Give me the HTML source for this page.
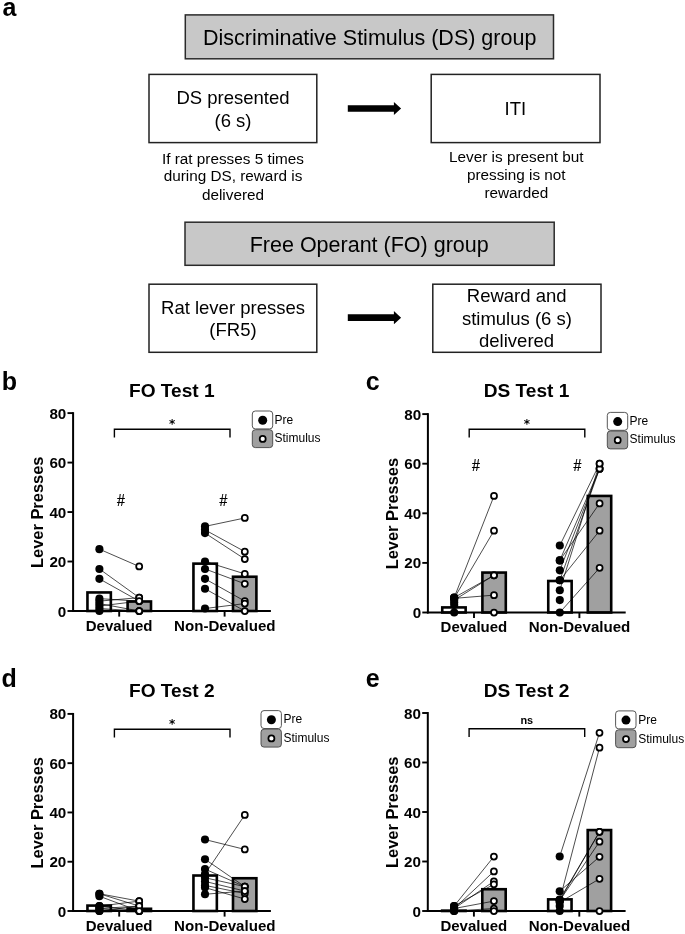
<!DOCTYPE html>
<html lang="en">
<head>
<meta charset="utf-8">
<title>Figure</title>
<style>
html,body{margin:0;padding:0;background:#fff;}
svg{display:block;font-family:"Liberation Sans", Arial, Helvetica, sans-serif;opacity:0.999;will-change:transform;}
</style>
</head>
<body>
<svg width="685" height="934" viewBox="0 0 685 934">
<rect x="0" y="0" width="685" height="934" fill="#ffffff"/>
<text x="9.5" y="16.2" font-size="25" font-weight="bold" text-anchor="middle" fill="#000" >a</text>
<rect x="185.30" y="14.90" width="368.20" height="43.90" fill="#c8c8c8" stroke="#2a2a2a" stroke-width="1.5"/>
<text x="369.7" y="45.2" font-size="21.5" font-weight="normal" text-anchor="middle" fill="#000" >Discriminative Stimulus (DS) group</text>
<rect x="149.00" y="74.40" width="167.80" height="68.20" fill="#fff" stroke="#222" stroke-width="1.5"/>
<text x="233" y="104.4" font-size="18.5" font-weight="normal" text-anchor="middle" fill="#000" >DS presented</text>
<text x="233" y="127.0" font-size="18.5" font-weight="normal" text-anchor="middle" fill="#000" >(6 s)</text>
<text x="233" y="163.6" font-size="15.3" font-weight="normal" text-anchor="middle" fill="#000" >If rat presses 5 times</text>
<text x="233" y="181.4" font-size="15.3" font-weight="normal" text-anchor="middle" fill="#000" >during DS, reward is</text>
<text x="233" y="199.6" font-size="15.3" font-weight="normal" text-anchor="middle" fill="#000" >delivered</text>
<polygon fill="#000" points="347.80,105.15 393.90,105.15 393.90,101.90 401.10,108.50 393.90,115.10 393.90,111.85 347.80,111.85"/>
<rect x="431.20" y="74.40" width="168.80" height="68.20" fill="#fff" stroke="#222" stroke-width="1.5"/>
<text x="515.3" y="115.2" font-size="18.5" font-weight="normal" text-anchor="middle" fill="#000" >ITI</text>
<text x="516.3" y="162.2" font-size="15.3" font-weight="normal" text-anchor="middle" fill="#000" >Lever is present but</text>
<text x="516.3" y="180.3" font-size="15.3" font-weight="normal" text-anchor="middle" fill="#000" >pressing is not</text>
<text x="516.3" y="197.6" font-size="15.3" font-weight="normal" text-anchor="middle" fill="#000" >rewarded</text>
<rect x="185.00" y="222.20" width="369.20" height="43.10" fill="#c8c8c8" stroke="#2a2a2a" stroke-width="1.5"/>
<text x="369.2" y="252.0" font-size="21.5" font-weight="normal" text-anchor="middle" fill="#000" >Free Operant (FO) group</text>
<rect x="149.00" y="284.20" width="167.80" height="68.10" fill="#fff" stroke="#222" stroke-width="1.5"/>
<text x="233" y="313.9" font-size="18.5" font-weight="normal" text-anchor="middle" fill="#000" >Rat lever presses</text>
<text x="233" y="336.3" font-size="18.5" font-weight="normal" text-anchor="middle" fill="#000" >(FR5)</text>
<polygon fill="#000" points="347.80,314.35 393.90,314.35 393.90,311.10 401.10,317.70 393.90,324.30 393.90,321.05 347.80,321.05"/>
<rect x="432.80" y="284.20" width="168.20" height="68.10" fill="#fff" stroke="#222" stroke-width="1.5"/>
<text x="516.7" y="302.1" font-size="18.5" font-weight="normal" text-anchor="middle" fill="#000" >Reward and</text>
<text x="516.9" y="324.6" font-size="18.5" font-weight="normal" text-anchor="middle" fill="#000" >stimulus (6 s)</text>
<text x="516.6" y="346.5" font-size="18.5" font-weight="normal" text-anchor="middle" fill="#000" >delivered</text>
<text x="9.5" y="389.8" font-size="25" font-weight="bold" text-anchor="middle" fill="#000" >b</text>
<text x="171.8" y="397.3" font-size="19.1" font-weight="bold" text-anchor="middle" fill="#000" >FO Test 1</text>
<text transform="translate(42.8,512.3) rotate(-90)" font-size="16.45" font-weight="bold" text-anchor="middle" fill="#000">Lever Presses</text>
<line x1="67.50" y1="611.00" x2="73.10" y2="611.00" stroke="#000" stroke-width="1.9"/>
<text x="66.3" y="616.5" font-size="15.2" font-weight="bold" text-anchor="end" fill="#000" >0</text>
<line x1="67.50" y1="561.52" x2="73.10" y2="561.52" stroke="#000" stroke-width="1.9"/>
<text x="66.3" y="567.0" font-size="15.2" font-weight="bold" text-anchor="end" fill="#000" >20</text>
<line x1="67.50" y1="512.05" x2="73.10" y2="512.05" stroke="#000" stroke-width="1.9"/>
<text x="66.3" y="517.5" font-size="15.2" font-weight="bold" text-anchor="end" fill="#000" >40</text>
<line x1="67.50" y1="462.58" x2="73.10" y2="462.58" stroke="#000" stroke-width="1.9"/>
<text x="66.3" y="468.0" font-size="15.2" font-weight="bold" text-anchor="end" fill="#000" >60</text>
<line x1="67.50" y1="413.10" x2="73.10" y2="413.10" stroke="#000" stroke-width="1.9"/>
<text x="66.3" y="418.6" font-size="15.2" font-weight="bold" text-anchor="end" fill="#000" >80</text>
<rect x="87.45" y="592.45" width="23.40" height="18.55" fill="#fff" stroke="#000" stroke-width="2.6"/>
<rect x="127.60" y="601.48" width="23.40" height="9.52" fill="#a0a0a0" stroke="#000" stroke-width="2.6"/>
<rect x="193.45" y="563.63" width="23.40" height="47.37" fill="#fff" stroke="#000" stroke-width="2.6"/>
<rect x="233.00" y="576.74" width="23.40" height="34.26" fill="#a0a0a0" stroke="#000" stroke-width="2.6"/>
<line x1="73.10" y1="412.15" x2="73.10" y2="611.95" stroke="#000" stroke-width="2"/>
<line x1="72.10" y1="611.00" x2="270.90" y2="611.00" stroke="#000" stroke-width="2"/>
<line x1="119.20" y1="611.00" x2="119.20" y2="616.60" stroke="#000" stroke-width="1.9"/>
<line x1="224.60" y1="611.00" x2="224.60" y2="616.60" stroke="#000" stroke-width="1.9"/>
<text x="119.1" y="630.9" font-size="15" font-weight="bold" text-anchor="middle" fill="#000" >Devalued</text>
<text x="224.8" y="630.9" font-size="15.1" font-weight="bold" text-anchor="middle" fill="#000" >Non-Devalued</text>
<line x1="99.40" y1="549.16" x2="139.20" y2="566.47" stroke="#000" stroke-width="0.7"/>
<line x1="99.40" y1="568.95" x2="139.20" y2="597.64" stroke="#000" stroke-width="0.7"/>
<line x1="99.40" y1="578.84" x2="139.20" y2="601.11" stroke="#000" stroke-width="0.7"/>
<line x1="99.40" y1="598.63" x2="139.20" y2="601.11" stroke="#000" stroke-width="0.7"/>
<line x1="99.40" y1="601.11" x2="139.20" y2="597.64" stroke="#000" stroke-width="0.7"/>
<line x1="99.40" y1="603.58" x2="139.20" y2="611.00" stroke="#000" stroke-width="0.7"/>
<line x1="99.40" y1="606.05" x2="139.20" y2="601.11" stroke="#000" stroke-width="0.7"/>
<line x1="99.40" y1="608.53" x2="139.20" y2="611.00" stroke="#000" stroke-width="0.7"/>
<line x1="99.40" y1="611.00" x2="139.20" y2="611.00" stroke="#000" stroke-width="0.7"/>
<line x1="205.00" y1="526.40" x2="244.80" y2="517.99" stroke="#000" stroke-width="0.7"/>
<line x1="205.00" y1="529.86" x2="244.80" y2="551.63" stroke="#000" stroke-width="0.7"/>
<line x1="205.00" y1="533.08" x2="244.80" y2="559.05" stroke="#000" stroke-width="0.7"/>
<line x1="205.00" y1="561.52" x2="244.80" y2="573.89" stroke="#000" stroke-width="0.7"/>
<line x1="205.00" y1="568.95" x2="244.80" y2="583.79" stroke="#000" stroke-width="0.7"/>
<line x1="205.00" y1="578.84" x2="244.80" y2="601.11" stroke="#000" stroke-width="0.7"/>
<line x1="205.00" y1="588.74" x2="244.80" y2="611.00" stroke="#000" stroke-width="0.7"/>
<line x1="205.00" y1="608.53" x2="244.80" y2="603.58" stroke="#000" stroke-width="0.7"/>
<circle cx="99.40" cy="549.16" r="4.05" fill="#000"/>
<circle cx="99.40" cy="568.95" r="4.05" fill="#000"/>
<circle cx="99.40" cy="578.84" r="4.05" fill="#000"/>
<circle cx="99.40" cy="598.63" r="4.05" fill="#000"/>
<circle cx="99.40" cy="601.11" r="4.05" fill="#000"/>
<circle cx="99.40" cy="603.58" r="4.05" fill="#000"/>
<circle cx="99.40" cy="606.05" r="4.05" fill="#000"/>
<circle cx="99.40" cy="608.53" r="4.05" fill="#000"/>
<circle cx="99.40" cy="611.00" r="4.05" fill="#000"/>
<circle cx="139.20" cy="566.47" r="3.0" fill="#fff" stroke="#000" stroke-width="1.75"/>
<circle cx="139.20" cy="597.64" r="3.0" fill="#fff" stroke="#000" stroke-width="1.75"/>
<circle cx="139.20" cy="601.11" r="3.0" fill="#fff" stroke="#000" stroke-width="1.75"/>
<circle cx="139.20" cy="601.11" r="3.0" fill="#fff" stroke="#000" stroke-width="1.75"/>
<circle cx="139.20" cy="597.64" r="3.0" fill="#fff" stroke="#000" stroke-width="1.75"/>
<circle cx="139.20" cy="611.00" r="3.0" fill="#fff" stroke="#000" stroke-width="1.75"/>
<circle cx="139.20" cy="601.11" r="3.0" fill="#fff" stroke="#000" stroke-width="1.75"/>
<circle cx="139.20" cy="611.00" r="3.0" fill="#fff" stroke="#000" stroke-width="1.75"/>
<circle cx="139.20" cy="611.00" r="3.0" fill="#fff" stroke="#000" stroke-width="1.75"/>
<circle cx="205.00" cy="526.40" r="4.05" fill="#000"/>
<circle cx="205.00" cy="529.86" r="4.05" fill="#000"/>
<circle cx="205.00" cy="533.08" r="4.05" fill="#000"/>
<circle cx="205.00" cy="561.52" r="4.05" fill="#000"/>
<circle cx="205.00" cy="568.95" r="4.05" fill="#000"/>
<circle cx="205.00" cy="578.84" r="4.05" fill="#000"/>
<circle cx="205.00" cy="588.74" r="4.05" fill="#000"/>
<circle cx="205.00" cy="608.53" r="4.05" fill="#000"/>
<circle cx="244.80" cy="517.99" r="3.0" fill="#fff" stroke="#000" stroke-width="1.75"/>
<circle cx="244.80" cy="551.63" r="3.0" fill="#fff" stroke="#000" stroke-width="1.75"/>
<circle cx="244.80" cy="559.05" r="3.0" fill="#fff" stroke="#000" stroke-width="1.75"/>
<circle cx="244.80" cy="573.89" r="3.0" fill="#fff" stroke="#000" stroke-width="1.75"/>
<circle cx="244.80" cy="583.79" r="3.0" fill="#fff" stroke="#000" stroke-width="1.75"/>
<circle cx="244.80" cy="601.11" r="3.0" fill="#fff" stroke="#000" stroke-width="1.75"/>
<circle cx="244.80" cy="611.00" r="3.0" fill="#fff" stroke="#000" stroke-width="1.75"/>
<circle cx="244.80" cy="603.58" r="3.0" fill="#fff" stroke="#000" stroke-width="1.75"/>
<polyline fill="none" stroke="#000" stroke-width="1.4" points="114.40,437.60 114.40,429.20 230.00,429.20 230.00,437.60"/>
<text x="172.05" y="427.70" font-family="DejaVu Sans, sans-serif" font-size="12" font-weight="bold" text-anchor="middle" fill="#000">*</text>
<text transform="translate(120.80,505.70) scale(0.9,1)" font-size="15.6" text-anchor="middle" fill="#000" stroke="#000" stroke-width="0.25">#</text>
<text transform="translate(223.40,505.70) scale(0.9,1)" font-size="15.6" text-anchor="middle" fill="#000" stroke="#000" stroke-width="0.25">#</text>
<rect x="252.30" y="411.00" width="20.40" height="17.90" fill="#fff" stroke="#444" stroke-width="0.9" rx="3"/>
<rect x="252.30" y="429.70" width="20.40" height="17.90" fill="#a0a0a0" stroke="#444" stroke-width="0.9" rx="3"/>
<circle cx="262.70" cy="420.20" r="4.5" fill="#000"/>
<circle cx="262.70" cy="438.90" r="3.0" fill="#fff" stroke="#000" stroke-width="1.75"/>
<text x="274.5" y="423.6" font-size="12" font-weight="normal" text-anchor="start" fill="#000" >Pre</text>
<text x="274.5" y="442.0" font-size="12" font-weight="normal" text-anchor="start" fill="#000" >Stimulus</text>
<text x="372.8" y="390.3" font-size="25" font-weight="bold" text-anchor="middle" fill="#000" >c</text>
<text x="526.6" y="397.2" font-size="19.1" font-weight="bold" text-anchor="middle" fill="#000" >DS Test 1</text>
<text transform="translate(397.6,513.6) rotate(-90)" font-size="16.45" font-weight="bold" text-anchor="middle" fill="#000">Lever Presses</text>
<line x1="422.30" y1="612.50" x2="427.90" y2="612.50" stroke="#000" stroke-width="1.9"/>
<text x="421.1" y="618.0" font-size="15.2" font-weight="bold" text-anchor="end" fill="#000" >0</text>
<line x1="422.30" y1="562.90" x2="427.90" y2="562.90" stroke="#000" stroke-width="1.9"/>
<text x="421.1" y="568.4" font-size="15.2" font-weight="bold" text-anchor="end" fill="#000" >20</text>
<line x1="422.30" y1="513.30" x2="427.90" y2="513.30" stroke="#000" stroke-width="1.9"/>
<text x="421.1" y="518.8" font-size="15.2" font-weight="bold" text-anchor="end" fill="#000" >40</text>
<line x1="422.30" y1="463.70" x2="427.90" y2="463.70" stroke="#000" stroke-width="1.9"/>
<text x="421.1" y="469.2" font-size="15.2" font-weight="bold" text-anchor="end" fill="#000" >60</text>
<line x1="422.30" y1="414.10" x2="427.90" y2="414.10" stroke="#000" stroke-width="1.9"/>
<text x="421.1" y="419.6" font-size="15.2" font-weight="bold" text-anchor="end" fill="#000" >80</text>
<rect x="442.25" y="607.42" width="23.40" height="5.08" fill="#fff" stroke="#000" stroke-width="2.6"/>
<rect x="482.40" y="572.57" width="23.40" height="39.93" fill="#a0a0a0" stroke="#000" stroke-width="2.6"/>
<rect x="548.25" y="581.00" width="23.40" height="31.50" fill="#fff" stroke="#000" stroke-width="2.6"/>
<rect x="587.80" y="495.94" width="23.40" height="116.56" fill="#a0a0a0" stroke="#000" stroke-width="2.6"/>
<line x1="427.90" y1="413.15" x2="427.90" y2="613.45" stroke="#000" stroke-width="2"/>
<line x1="426.90" y1="612.50" x2="625.70" y2="612.50" stroke="#000" stroke-width="2"/>
<line x1="474.00" y1="612.50" x2="474.00" y2="618.10" stroke="#000" stroke-width="1.9"/>
<line x1="579.40" y1="612.50" x2="579.40" y2="618.10" stroke="#000" stroke-width="1.9"/>
<text x="473.9" y="632.4" font-size="15" font-weight="bold" text-anchor="middle" fill="#000" >Devalued</text>
<text x="579.6" y="632.4" font-size="15.1" font-weight="bold" text-anchor="middle" fill="#000" >Non-Devalued</text>
<line x1="454.20" y1="597.62" x2="494.00" y2="495.94" stroke="#000" stroke-width="0.7"/>
<line x1="454.20" y1="598.12" x2="494.00" y2="530.66" stroke="#000" stroke-width="0.7"/>
<line x1="454.20" y1="597.62" x2="494.00" y2="575.30" stroke="#000" stroke-width="0.7"/>
<line x1="454.20" y1="600.10" x2="494.00" y2="575.30" stroke="#000" stroke-width="0.7"/>
<line x1="454.20" y1="598.36" x2="494.00" y2="595.14" stroke="#000" stroke-width="0.7"/>
<line x1="559.80" y1="545.54" x2="599.60" y2="463.70" stroke="#000" stroke-width="0.7"/>
<line x1="559.80" y1="560.42" x2="599.60" y2="468.66" stroke="#000" stroke-width="0.7"/>
<line x1="559.80" y1="560.42" x2="599.60" y2="503.38" stroke="#000" stroke-width="0.7"/>
<line x1="559.80" y1="570.34" x2="599.60" y2="468.66" stroke="#000" stroke-width="0.7"/>
<line x1="559.80" y1="580.26" x2="599.60" y2="468.66" stroke="#000" stroke-width="0.7"/>
<line x1="559.80" y1="580.26" x2="599.60" y2="530.66" stroke="#000" stroke-width="0.7"/>
<line x1="559.80" y1="590.18" x2="599.60" y2="463.70" stroke="#000" stroke-width="0.7"/>
<line x1="559.80" y1="612.50" x2="599.60" y2="567.86" stroke="#000" stroke-width="0.7"/>
<circle cx="454.20" cy="597.62" r="4.05" fill="#000"/>
<circle cx="454.20" cy="598.12" r="4.05" fill="#000"/>
<circle cx="454.20" cy="597.62" r="4.05" fill="#000"/>
<circle cx="454.20" cy="600.10" r="4.05" fill="#000"/>
<circle cx="454.20" cy="598.36" r="4.05" fill="#000"/>
<circle cx="454.20" cy="602.58" r="4.05" fill="#000"/>
<circle cx="454.20" cy="605.06" r="4.05" fill="#000"/>
<circle cx="454.20" cy="612.50" r="4.05" fill="#000"/>
<circle cx="494.00" cy="495.94" r="3.0" fill="#fff" stroke="#000" stroke-width="1.75"/>
<circle cx="494.00" cy="530.66" r="3.0" fill="#fff" stroke="#000" stroke-width="1.75"/>
<circle cx="494.00" cy="575.30" r="3.0" fill="#fff" stroke="#000" stroke-width="1.75"/>
<circle cx="494.00" cy="575.30" r="3.0" fill="#fff" stroke="#000" stroke-width="1.75"/>
<circle cx="494.00" cy="595.14" r="3.0" fill="#fff" stroke="#000" stroke-width="1.75"/>
<circle cx="494.00" cy="612.50" r="3.0" fill="#fff" stroke="#000" stroke-width="1.75"/>
<circle cx="559.80" cy="545.54" r="4.05" fill="#000"/>
<circle cx="559.80" cy="560.42" r="4.05" fill="#000"/>
<circle cx="559.80" cy="560.42" r="4.05" fill="#000"/>
<circle cx="559.80" cy="570.34" r="4.05" fill="#000"/>
<circle cx="559.80" cy="580.26" r="4.05" fill="#000"/>
<circle cx="559.80" cy="580.26" r="4.05" fill="#000"/>
<circle cx="559.80" cy="590.18" r="4.05" fill="#000"/>
<circle cx="559.80" cy="612.50" r="4.05" fill="#000"/>
<circle cx="559.80" cy="600.10" r="4.05" fill="#000"/>
<circle cx="599.60" cy="463.70" r="3.0" fill="#fff" stroke="#000" stroke-width="1.75"/>
<circle cx="599.60" cy="468.66" r="3.0" fill="#fff" stroke="#000" stroke-width="1.75"/>
<circle cx="599.60" cy="503.38" r="3.0" fill="#fff" stroke="#000" stroke-width="1.75"/>
<circle cx="599.60" cy="468.66" r="3.0" fill="#fff" stroke="#000" stroke-width="1.75"/>
<circle cx="599.60" cy="468.66" r="3.0" fill="#fff" stroke="#000" stroke-width="1.75"/>
<circle cx="599.60" cy="530.66" r="3.0" fill="#fff" stroke="#000" stroke-width="1.75"/>
<circle cx="599.60" cy="463.70" r="3.0" fill="#fff" stroke="#000" stroke-width="1.75"/>
<circle cx="599.60" cy="567.86" r="3.0" fill="#fff" stroke="#000" stroke-width="1.75"/>
<polyline fill="none" stroke="#000" stroke-width="1.4" points="469.20,437.60 469.20,429.20 584.80,429.20 584.80,437.60"/>
<text x="526.85" y="427.70" font-family="DejaVu Sans, sans-serif" font-size="12" font-weight="bold" text-anchor="middle" fill="#000">*</text>
<text transform="translate(475.90,470.60) scale(0.9,1)" font-size="15.6" text-anchor="middle" fill="#000" stroke="#000" stroke-width="0.25">#</text>
<text transform="translate(577.50,470.70) scale(0.9,1)" font-size="15.6" text-anchor="middle" fill="#000" stroke="#000" stroke-width="0.25">#</text>
<rect x="607.30" y="412.40" width="20.40" height="17.90" fill="#fff" stroke="#444" stroke-width="0.9" rx="3"/>
<rect x="607.30" y="431.00" width="20.40" height="17.90" fill="#a0a0a0" stroke="#444" stroke-width="0.9" rx="3"/>
<circle cx="617.70" cy="421.60" r="4.5" fill="#000"/>
<circle cx="617.70" cy="440.20" r="3.0" fill="#fff" stroke="#000" stroke-width="1.75"/>
<text x="629.6" y="424.7" font-size="12" font-weight="normal" text-anchor="start" fill="#000" >Pre</text>
<text x="629.6" y="443.4" font-size="12" font-weight="normal" text-anchor="start" fill="#000" >Stimulus</text>
<text x="9.2" y="687.3" font-size="25" font-weight="bold" text-anchor="middle" fill="#000" >d</text>
<text x="171.8" y="697.3" font-size="19.1" font-weight="bold" text-anchor="middle" fill="#000" >FO Test 2</text>
<text transform="translate(42.8,812.8) rotate(-90)" font-size="16.45" font-weight="bold" text-anchor="middle" fill="#000">Lever Presses</text>
<line x1="67.50" y1="911.00" x2="73.10" y2="911.00" stroke="#000" stroke-width="1.9"/>
<text x="66.3" y="916.5" font-size="15.2" font-weight="bold" text-anchor="end" fill="#000" >0</text>
<line x1="67.50" y1="861.73" x2="73.10" y2="861.73" stroke="#000" stroke-width="1.9"/>
<text x="66.3" y="867.2" font-size="15.2" font-weight="bold" text-anchor="end" fill="#000" >20</text>
<line x1="67.50" y1="812.45" x2="73.10" y2="812.45" stroke="#000" stroke-width="1.9"/>
<text x="66.3" y="817.9" font-size="15.2" font-weight="bold" text-anchor="end" fill="#000" >40</text>
<line x1="67.50" y1="763.17" x2="73.10" y2="763.17" stroke="#000" stroke-width="1.9"/>
<text x="66.3" y="768.6" font-size="15.2" font-weight="bold" text-anchor="end" fill="#000" >60</text>
<line x1="67.50" y1="713.90" x2="73.10" y2="713.90" stroke="#000" stroke-width="1.9"/>
<text x="66.3" y="719.4" font-size="15.2" font-weight="bold" text-anchor="end" fill="#000" >80</text>
<rect x="87.45" y="905.58" width="23.40" height="5.42" fill="#fff" stroke="#000" stroke-width="2.6"/>
<rect x="127.60" y="908.78" width="23.40" height="2.22" fill="#a0a0a0" stroke="#000" stroke-width="2.6"/>
<rect x="193.45" y="875.52" width="23.40" height="35.48" fill="#fff" stroke="#000" stroke-width="2.6"/>
<rect x="233.00" y="878.23" width="23.40" height="32.77" fill="#a0a0a0" stroke="#000" stroke-width="2.6"/>
<line x1="73.10" y1="712.95" x2="73.10" y2="911.95" stroke="#000" stroke-width="2"/>
<line x1="72.10" y1="911.00" x2="270.90" y2="911.00" stroke="#000" stroke-width="2"/>
<line x1="119.20" y1="911.00" x2="119.20" y2="916.60" stroke="#000" stroke-width="1.9"/>
<line x1="224.60" y1="911.00" x2="224.60" y2="916.60" stroke="#000" stroke-width="1.9"/>
<text x="119.1" y="930.9" font-size="15" font-weight="bold" text-anchor="middle" fill="#000" >Devalued</text>
<text x="224.8" y="930.9" font-size="15.1" font-weight="bold" text-anchor="middle" fill="#000" >Non-Devalued</text>
<line x1="99.40" y1="893.75" x2="139.20" y2="901.14" stroke="#000" stroke-width="0.7"/>
<line x1="99.40" y1="893.75" x2="139.20" y2="906.07" stroke="#000" stroke-width="0.7"/>
<line x1="99.40" y1="896.22" x2="139.20" y2="911.00" stroke="#000" stroke-width="0.7"/>
<line x1="99.40" y1="906.07" x2="139.20" y2="901.14" stroke="#000" stroke-width="0.7"/>
<line x1="99.40" y1="906.07" x2="139.20" y2="911.00" stroke="#000" stroke-width="0.7"/>
<line x1="99.40" y1="908.54" x2="139.20" y2="906.07" stroke="#000" stroke-width="0.7"/>
<line x1="99.40" y1="908.54" x2="139.20" y2="911.00" stroke="#000" stroke-width="0.7"/>
<line x1="99.40" y1="911.00" x2="139.20" y2="906.07" stroke="#000" stroke-width="0.7"/>
<line x1="99.40" y1="911.00" x2="139.20" y2="911.00" stroke="#000" stroke-width="0.7"/>
<line x1="205.00" y1="839.55" x2="244.80" y2="849.41" stroke="#000" stroke-width="0.7"/>
<line x1="205.00" y1="859.26" x2="244.80" y2="886.61" stroke="#000" stroke-width="0.7"/>
<line x1="205.00" y1="869.12" x2="244.80" y2="886.61" stroke="#000" stroke-width="0.7"/>
<line x1="205.00" y1="874.04" x2="244.80" y2="814.91" stroke="#000" stroke-width="0.7"/>
<line x1="205.00" y1="877.74" x2="244.80" y2="886.61" stroke="#000" stroke-width="0.7"/>
<line x1="205.00" y1="881.43" x2="244.80" y2="891.04" stroke="#000" stroke-width="0.7"/>
<line x1="205.00" y1="885.38" x2="244.80" y2="893.51" stroke="#000" stroke-width="0.7"/>
<line x1="205.00" y1="887.59" x2="244.80" y2="899.05" stroke="#000" stroke-width="0.7"/>
<line x1="205.00" y1="894.25" x2="244.80" y2="891.04" stroke="#000" stroke-width="0.7"/>
<circle cx="99.40" cy="893.75" r="4.05" fill="#000"/>
<circle cx="99.40" cy="893.75" r="4.05" fill="#000"/>
<circle cx="99.40" cy="896.22" r="4.05" fill="#000"/>
<circle cx="99.40" cy="906.07" r="4.05" fill="#000"/>
<circle cx="99.40" cy="906.07" r="4.05" fill="#000"/>
<circle cx="99.40" cy="908.54" r="4.05" fill="#000"/>
<circle cx="99.40" cy="908.54" r="4.05" fill="#000"/>
<circle cx="99.40" cy="911.00" r="4.05" fill="#000"/>
<circle cx="99.40" cy="911.00" r="4.05" fill="#000"/>
<circle cx="139.20" cy="901.14" r="3.0" fill="#fff" stroke="#000" stroke-width="1.75"/>
<circle cx="139.20" cy="906.07" r="3.0" fill="#fff" stroke="#000" stroke-width="1.75"/>
<circle cx="139.20" cy="911.00" r="3.0" fill="#fff" stroke="#000" stroke-width="1.75"/>
<circle cx="139.20" cy="901.14" r="3.0" fill="#fff" stroke="#000" stroke-width="1.75"/>
<circle cx="139.20" cy="911.00" r="3.0" fill="#fff" stroke="#000" stroke-width="1.75"/>
<circle cx="139.20" cy="906.07" r="3.0" fill="#fff" stroke="#000" stroke-width="1.75"/>
<circle cx="139.20" cy="911.00" r="3.0" fill="#fff" stroke="#000" stroke-width="1.75"/>
<circle cx="139.20" cy="906.07" r="3.0" fill="#fff" stroke="#000" stroke-width="1.75"/>
<circle cx="139.20" cy="911.00" r="3.0" fill="#fff" stroke="#000" stroke-width="1.75"/>
<circle cx="205.00" cy="839.55" r="4.05" fill="#000"/>
<circle cx="205.00" cy="859.26" r="4.05" fill="#000"/>
<circle cx="205.00" cy="869.12" r="4.05" fill="#000"/>
<circle cx="205.00" cy="874.04" r="4.05" fill="#000"/>
<circle cx="205.00" cy="877.74" r="4.05" fill="#000"/>
<circle cx="205.00" cy="881.43" r="4.05" fill="#000"/>
<circle cx="205.00" cy="885.38" r="4.05" fill="#000"/>
<circle cx="205.00" cy="887.59" r="4.05" fill="#000"/>
<circle cx="205.00" cy="894.25" r="4.05" fill="#000"/>
<circle cx="244.80" cy="849.41" r="3.0" fill="#fff" stroke="#000" stroke-width="1.75"/>
<circle cx="244.80" cy="886.61" r="3.0" fill="#fff" stroke="#000" stroke-width="1.75"/>
<circle cx="244.80" cy="886.61" r="3.0" fill="#fff" stroke="#000" stroke-width="1.75"/>
<circle cx="244.80" cy="814.91" r="3.0" fill="#fff" stroke="#000" stroke-width="1.75"/>
<circle cx="244.80" cy="886.61" r="3.0" fill="#fff" stroke="#000" stroke-width="1.75"/>
<circle cx="244.80" cy="891.04" r="3.0" fill="#fff" stroke="#000" stroke-width="1.75"/>
<circle cx="244.80" cy="893.51" r="3.0" fill="#fff" stroke="#000" stroke-width="1.75"/>
<circle cx="244.80" cy="899.05" r="3.0" fill="#fff" stroke="#000" stroke-width="1.75"/>
<circle cx="244.80" cy="891.04" r="3.0" fill="#fff" stroke="#000" stroke-width="1.75"/>
<polyline fill="none" stroke="#000" stroke-width="1.4" points="114.40,737.60 114.40,729.20 230.00,729.20 230.00,737.60"/>
<text x="172.05" y="727.70" font-family="DejaVu Sans, sans-serif" font-size="12" font-weight="bold" text-anchor="middle" fill="#000">*</text>
<rect x="261.00" y="710.60" width="20.40" height="17.90" fill="#fff" stroke="#444" stroke-width="0.9" rx="3"/>
<rect x="261.00" y="729.20" width="20.40" height="17.90" fill="#a0a0a0" stroke="#444" stroke-width="0.9" rx="3"/>
<circle cx="271.40" cy="719.80" r="4.5" fill="#000"/>
<circle cx="271.40" cy="738.40" r="3.0" fill="#fff" stroke="#000" stroke-width="1.75"/>
<text x="283.4" y="723.3" font-size="12" font-weight="normal" text-anchor="start" fill="#000" >Pre</text>
<text x="283.4" y="741.8" font-size="12" font-weight="normal" text-anchor="start" fill="#000" >Stimulus</text>
<text x="372.6" y="687.3" font-size="25" font-weight="bold" text-anchor="middle" fill="#000" >e</text>
<text x="526.5" y="697.3" font-size="19.1" font-weight="bold" text-anchor="middle" fill="#000" >DS Test 2</text>
<text transform="translate(397.5,812.3) rotate(-90)" font-size="16.45" font-weight="bold" text-anchor="middle" fill="#000">Lever Presses</text>
<line x1="422.20" y1="911.00" x2="427.80" y2="911.00" stroke="#000" stroke-width="1.9"/>
<text x="421.0" y="916.5" font-size="15.2" font-weight="bold" text-anchor="end" fill="#000" >0</text>
<line x1="422.20" y1="861.50" x2="427.80" y2="861.50" stroke="#000" stroke-width="1.9"/>
<text x="421.0" y="867.0" font-size="15.2" font-weight="bold" text-anchor="end" fill="#000" >20</text>
<line x1="422.20" y1="812.00" x2="427.80" y2="812.00" stroke="#000" stroke-width="1.9"/>
<text x="421.0" y="817.5" font-size="15.2" font-weight="bold" text-anchor="end" fill="#000" >40</text>
<line x1="422.20" y1="762.50" x2="427.80" y2="762.50" stroke="#000" stroke-width="1.9"/>
<text x="421.0" y="768.0" font-size="15.2" font-weight="bold" text-anchor="end" fill="#000" >60</text>
<line x1="422.20" y1="713.00" x2="427.80" y2="713.00" stroke="#000" stroke-width="1.9"/>
<text x="421.0" y="718.5" font-size="15.2" font-weight="bold" text-anchor="end" fill="#000" >80</text>
<rect x="442.15" y="910.63" width="23.40" height="0.37" fill="#fff" stroke="#000" stroke-width="2.6"/>
<rect x="482.30" y="889.22" width="23.40" height="21.78" fill="#a0a0a0" stroke="#000" stroke-width="2.6"/>
<rect x="548.15" y="899.37" width="23.40" height="11.63" fill="#fff" stroke="#000" stroke-width="2.6"/>
<rect x="587.70" y="830.07" width="23.40" height="80.93" fill="#a0a0a0" stroke="#000" stroke-width="2.6"/>
<line x1="427.80" y1="712.05" x2="427.80" y2="911.95" stroke="#000" stroke-width="2"/>
<line x1="426.80" y1="911.00" x2="625.60" y2="911.00" stroke="#000" stroke-width="2"/>
<line x1="473.90" y1="911.00" x2="473.90" y2="916.60" stroke="#000" stroke-width="1.9"/>
<line x1="579.30" y1="911.00" x2="579.30" y2="916.60" stroke="#000" stroke-width="1.9"/>
<text x="473.8" y="930.9" font-size="15" font-weight="bold" text-anchor="middle" fill="#000" >Devalued</text>
<text x="579.5" y="930.9" font-size="15.1" font-weight="bold" text-anchor="middle" fill="#000" >Non-Devalued</text>
<line x1="454.10" y1="906.05" x2="493.90" y2="856.55" stroke="#000" stroke-width="0.7"/>
<line x1="454.10" y1="908.52" x2="493.90" y2="871.40" stroke="#000" stroke-width="0.7"/>
<line x1="454.10" y1="908.52" x2="493.90" y2="881.30" stroke="#000" stroke-width="0.7"/>
<line x1="454.10" y1="906.05" x2="493.90" y2="884.27" stroke="#000" stroke-width="0.7"/>
<line x1="454.10" y1="908.52" x2="493.90" y2="901.10" stroke="#000" stroke-width="0.7"/>
<line x1="454.10" y1="911.00" x2="493.90" y2="908.52" stroke="#000" stroke-width="0.7"/>
<line x1="454.10" y1="911.00" x2="493.90" y2="911.00" stroke="#000" stroke-width="0.7"/>
<line x1="559.70" y1="856.55" x2="599.50" y2="732.80" stroke="#000" stroke-width="0.7"/>
<line x1="559.70" y1="900.11" x2="599.50" y2="747.65" stroke="#000" stroke-width="0.7"/>
<line x1="559.70" y1="891.20" x2="599.50" y2="856.80" stroke="#000" stroke-width="0.7"/>
<line x1="559.70" y1="899.62" x2="599.50" y2="831.80" stroke="#000" stroke-width="0.7"/>
<line x1="559.70" y1="900.61" x2="599.50" y2="831.80" stroke="#000" stroke-width="0.7"/>
<line x1="559.70" y1="900.61" x2="599.50" y2="841.70" stroke="#000" stroke-width="0.7"/>
<line x1="559.70" y1="902.34" x2="599.50" y2="878.83" stroke="#000" stroke-width="0.7"/>
<line x1="559.70" y1="911.00" x2="599.50" y2="911.00" stroke="#000" stroke-width="0.7"/>
<circle cx="454.10" cy="906.05" r="4.05" fill="#000"/>
<circle cx="454.10" cy="908.52" r="4.05" fill="#000"/>
<circle cx="454.10" cy="908.52" r="4.05" fill="#000"/>
<circle cx="454.10" cy="906.05" r="4.05" fill="#000"/>
<circle cx="454.10" cy="908.52" r="4.05" fill="#000"/>
<circle cx="454.10" cy="911.00" r="4.05" fill="#000"/>
<circle cx="454.10" cy="911.00" r="4.05" fill="#000"/>
<circle cx="493.90" cy="856.55" r="3.0" fill="#fff" stroke="#000" stroke-width="1.75"/>
<circle cx="493.90" cy="871.40" r="3.0" fill="#fff" stroke="#000" stroke-width="1.75"/>
<circle cx="493.90" cy="881.30" r="3.0" fill="#fff" stroke="#000" stroke-width="1.75"/>
<circle cx="493.90" cy="884.27" r="3.0" fill="#fff" stroke="#000" stroke-width="1.75"/>
<circle cx="493.90" cy="901.10" r="3.0" fill="#fff" stroke="#000" stroke-width="1.75"/>
<circle cx="493.90" cy="908.52" r="3.0" fill="#fff" stroke="#000" stroke-width="1.75"/>
<circle cx="493.90" cy="911.00" r="3.0" fill="#fff" stroke="#000" stroke-width="1.75"/>
<circle cx="559.70" cy="856.55" r="4.05" fill="#000"/>
<circle cx="559.70" cy="900.11" r="4.05" fill="#000"/>
<circle cx="559.70" cy="891.20" r="4.05" fill="#000"/>
<circle cx="559.70" cy="899.62" r="4.05" fill="#000"/>
<circle cx="559.70" cy="900.61" r="4.05" fill="#000"/>
<circle cx="559.70" cy="900.61" r="4.05" fill="#000"/>
<circle cx="559.70" cy="902.34" r="4.05" fill="#000"/>
<circle cx="559.70" cy="911.00" r="4.05" fill="#000"/>
<circle cx="559.70" cy="906.05" r="4.05" fill="#000"/>
<circle cx="599.50" cy="732.80" r="3.0" fill="#fff" stroke="#000" stroke-width="1.75"/>
<circle cx="599.50" cy="747.65" r="3.0" fill="#fff" stroke="#000" stroke-width="1.75"/>
<circle cx="599.50" cy="856.80" r="3.0" fill="#fff" stroke="#000" stroke-width="1.75"/>
<circle cx="599.50" cy="831.80" r="3.0" fill="#fff" stroke="#000" stroke-width="1.75"/>
<circle cx="599.50" cy="831.80" r="3.0" fill="#fff" stroke="#000" stroke-width="1.75"/>
<circle cx="599.50" cy="841.70" r="3.0" fill="#fff" stroke="#000" stroke-width="1.75"/>
<circle cx="599.50" cy="878.83" r="3.0" fill="#fff" stroke="#000" stroke-width="1.75"/>
<circle cx="599.50" cy="911.00" r="3.0" fill="#fff" stroke="#000" stroke-width="1.75"/>
<polyline fill="none" stroke="#000" stroke-width="1.4" points="469.10,737.10 469.10,728.70 584.70,728.70 584.70,737.10"/>
<text x="526.8" y="723.5" font-size="10.9" font-weight="bold" text-anchor="middle" fill="#000" >ns</text>
<rect x="615.60" y="710.90" width="20.40" height="17.90" fill="#fff" stroke="#444" stroke-width="0.9" rx="3"/>
<rect x="615.60" y="729.80" width="20.40" height="17.90" fill="#a0a0a0" stroke="#444" stroke-width="0.9" rx="3"/>
<circle cx="626.00" cy="720.10" r="4.5" fill="#000"/>
<circle cx="626.00" cy="739.00" r="3.0" fill="#fff" stroke="#000" stroke-width="1.75"/>
<text x="638.2" y="723.5" font-size="12" font-weight="normal" text-anchor="start" fill="#000" >Pre</text>
<text x="638.2" y="742.6" font-size="12" font-weight="normal" text-anchor="start" fill="#000" >Stimulus</text>
</svg>
</body>
</html>
